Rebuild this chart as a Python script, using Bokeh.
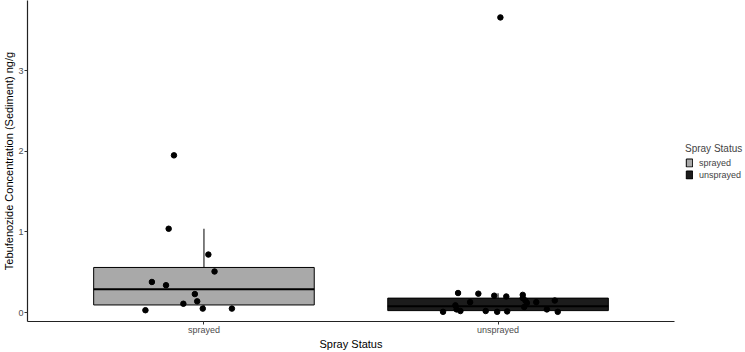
from bokeh.plotting import figure
from bokeh.models import Range1d, FixedTicker, Legend, LegendItem
from bokeh.embed import file_html
from bokeh.resources import INLINE

# ---- data ----
categories = ["sprayed", "unsprayed"]
fill_colors = ["#A9A9A9", "#1C1C1C"]

q1 = [0.095, 0.025]
median = [0.29, 0.08]
q3 = [0.56, 0.18]
whisker_low = [0.03, 0.01]
whisker_high = [1.04, 0.24]

sprayed_vals = [1.95, 1.04, 0.72, 0.51, 0.38, 0.34, 0.23, 0.14, 0.11, 0.05, 0.05, 0.03]
sprayed_jitter = [-0.102, -0.120, 0.015, 0.036, -0.177, -0.129, -0.031, -0.023, -0.070, -0.004, 0.095, -0.199]

unsprayed_vals = [3.66, 0.243, 0.235, 0.21, 0.20, 0.22, 0.18, 0.15, 0.12, 0.13, 0.13, 0.15,
                  0.09, 0.04, 0.01, 0.02, 0.02, 0.01, 0.015, 0.07, 0.04, 0.01]
unsprayed_jitter = [0.008, -0.136, -0.067, -0.013, 0.028, 0.084, 0.084, 0.093, 0.098, -0.095, 0.130, 0.193,
                    -0.145, -0.141, -0.187, -0.128, -0.042, -0.003, 0.031, 0.089, 0.166, 0.203]

y_ticks = [0, 1, 2, 3]

FONT = "Liberation Sans"

p = figure(frame_width=647, frame_height=321, output_backend="svg", toolbar_location=None,
           x_range=Range1d(0.4, 2.6), y_range=Range1d(-0.11, 3.87),
           min_border_left=0, min_border_right=0, min_border_top=0, min_border_bottom=0)
p.outline_line_color = None
p.xgrid.visible = False
p.ygrid.visible = False
p.background_fill_color = "white"
p.border_fill_color = "white"

pos = [i + 1 for i in range(len(categories))]

# whiskers
p.segment(x0=pos, x1=pos, y0=q3, y1=whisker_high, line_color="black", line_width=1)
p.segment(x0=pos, x1=pos, y0=whisker_low, y1=q1, line_color="black", line_width=1)

# boxes
renderers = []
for i in range(len(categories)):
    r = p.vbar(x=[pos[i]], top=[q3[i]], bottom=[q1[i]], width=0.75,
               fill_color=fill_colors[i], line_color="black", line_width=1)
    renderers.append(r)

# medians
half = 0.75 / 2
p.segment(x0=[x - half for x in pos], x1=[x + half for x in pos], y0=median, y1=median,
          line_color="black", line_width=2)

# jittered points
sx = [pos[0] + j for j in sprayed_jitter]
ux = [pos[1] + j for j in unsprayed_jitter]
p.scatter(x=sx, y=sprayed_vals, size=5.5, fill_color="black", line_color="black")
p.scatter(x=ux, y=unsprayed_vals, size=5.5, fill_color="black", line_color="black")

# axes
p.xaxis.ticker = FixedTicker(ticks=pos)
p.xaxis.major_label_overrides = {pos[i]: categories[i] for i in range(len(categories))}
p.yaxis.ticker = FixedTicker(ticks=y_ticks)
for ax in (p.xaxis[0], p.yaxis[0]):
    ax.axis_line_color = "#222222"
    ax.axis_line_width = 1.2
    ax.major_tick_line_color = "#333333"
    ax.major_tick_out = 3
    ax.major_tick_in = 0
    ax.minor_tick_line_color = None
    ax.major_label_text_font = FONT
    ax.major_label_text_font_size = "9px"
    ax.major_label_text_color = "#4D4D4D"
    ax.major_label_standoff = 1
    ax.axis_label_text_font = FONT
    ax.axis_label_text_font_size = "11px"
    ax.axis_label_text_font_style = "normal"
    ax.axis_label_text_color = "black"
    ax.axis_label_standoff = 0
p.xaxis.axis_label = "Spray Status"
p.yaxis.axis_label = "Tebufenozide Concentration (Sediment) ng/g"
p.xaxis.major_label_standoff = 0

legend = Legend(items=[LegendItem(label=categories[i], renderers=[renderers[i]]) for i in range(len(categories))],
                location="center_left", title="Spray Status")
legend.title_text_font = FONT
legend.title_text_font_size = "10px"
legend.title_text_font_style = "normal"
legend.title_standoff = 4
legend.label_text_font = FONT
legend.label_text_font_size = "9px"
legend.glyph_width = 8
legend.glyph_height = 10
legend.label_height = 10
legend.label_width = 40
legend.spacing = 2
legend.label_standoff = 6
legend.padding = 0
legend.margin = 11
legend.border_line_color = None
legend.background_fill_color = None
p.add_layout(legend, "right")

open("out.html", "w").write(file_html(p, INLINE))
